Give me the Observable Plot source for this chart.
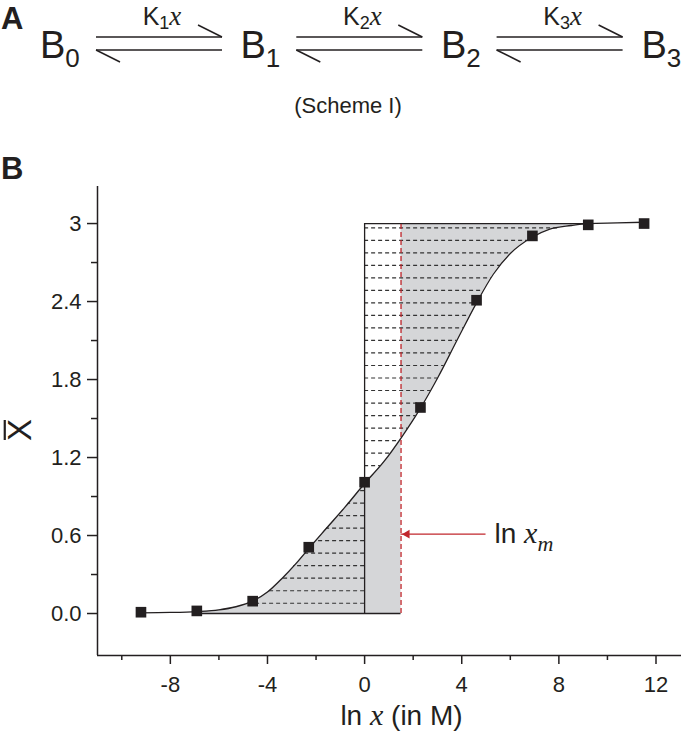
<!DOCTYPE html>
<html>
<head>
<meta charset="utf-8">
<script src="https://cdn.jsdelivr.net/npm/d3@7"></script>
<script src="https://cdn.jsdelivr.net/npm/@observablehq/plot@0.6"></script>
<style>
  html, body { margin: 0; padding: 0; background: #fff; }
  #wrap { position: relative; width: 681px; height: 741px; overflow: hidden; font-family: "Liberation Sans", Arial, sans-serif; }
  #head { position: relative; width: 681px; height: 150px; }
  #scheme { position: absolute; left: 0; top: 0; overflow: visible; z-index: 2; }
</style>
</head>
<body>
<div id="wrap">
  <div id="head"></div>
  <div id="chart"></div>
</div>
<script>
// ---------- data ----------
const species = ["0", "1", "2", "3"];          // B subscripts
const constants = ["1", "2", "3"];             // K subscripts
const schemeCaption = "(Scheme I)";

const xTicks = [-8, -4, 0, 4, 8, 12];
const xTickLabels = ["-8", "-4", "0", "4", "8", "12"];
const xMinor = [-10, -6, -2, 2, 6, 10];
const yTicks = [0, 0.6, 1.2, 1.8, 2.4, 3];
const yTickLabels = ["0.0", "0.6", "1.2", "1.8", "2.4", "3"];
const yMinor = [0.3, 0.9, 1.5, 2.1, 2.7];

// measured points: ln x (in M) and mean binding X̄
const lnX  = [-9.21, -6.91, -4.61, -2.30, 0, 2.30, 4.61, 6.91, 9.21, 11.51];
const xBar = [0.01, 0.02, 0.095, 0.51, 1.01, 1.585, 2.41, 2.905, 2.99, 3.0];

// fitted curve
const curveX = [-9.21, -8.0, -6.91, -6.0, -5.3, -4.61, -4.0, -3.4, -2.8, -2.3, -1.6, -0.8, 0, 0.8, 1.5, 2.3, 3.0, 3.8, 4.61, 5.3, 6.0, 6.9, 7.6, 8.5, 9.21, 10.4, 11.51];
const curveY = [0.005, 0.008, 0.015, 0.028, 0.052, 0.095, 0.165, 0.27, 0.39, 0.50, 0.65, 0.82, 1.0, 1.17, 1.35, 1.58, 1.81, 2.1, 2.39, 2.61, 2.77, 2.895, 2.955, 2.985, 3.0, 3.005, 3.01];

const lnXm = 1.5;          // ln x_m
const nSites = 3;          // saturation level
const shadeStart = -6.91;  // where the left shaded area begins
const shadeEnd = 9.21;     // where the upper shaded area ends
const hatchFirst = 0.079, hatchLast = 2.967, hatchCount = 31;
const arrowY = 0.61, arrowFromX = 5.0, labelX = 5.35;

const xDomain = [-11, 13.05];
const yDomain = [-0.323, 3.285];

// ---------- scheme (panel A) ----------
const ink = "#231f20";
{
  const ns = "http://www.w3.org/2000/svg";
  let s = `<svg id="scheme" xmlns="${ns}" width="681" height="190" font-family="Liberation Sans, Arial, sans-serif" fill="${ink}">`;
  s += `<text x="1" y="29" font-size="31" font-weight="bold">A</text>`;
  s += `<text x="1" y="179" font-size="31" font-weight="bold">B</text>`;
  species.forEach((sp, i) => {
    const x = 40 + i * 200.5;
    s += `<text x="${x}" y="58" font-size="38">B<tspan font-size="26" dy="9">${sp}</tspan></text>`;
  });
  constants.forEach((k, i) => {
    const x0 = 96 + i * 200.3, x1 = 222 + i * 200.3, cx = (x0 + x1) / 2 + 3;
    s += `<g stroke="${ink}" stroke-width="1.5" fill="none">
      <line x1="${x0}" y1="37" x2="${x1}" y2="37"/>
      <line x1="${x1 - 24}" y1="25" x2="${x1}" y2="37"/>
      <line x1="${x0}" y1="50" x2="${x1}" y2="50"/>
      <line x1="${x0}" y1="50" x2="${x0 + 24}" y2="62"/>
    </g>`;
    s += `<text x="${cx}" y="25" font-size="25" text-anchor="middle">K<tspan font-size="18" dy="4">${k}</tspan><tspan dy="-4" font-family="Liberation Serif, serif" font-style="italic" font-size="27">x</tspan></text>`;
  });
  s += `<text x="348" y="113" font-size="22" text-anchor="middle">${schemeCaption}</text>`;
  s += `</svg>`;
  document.getElementById("head").innerHTML = s;
}

// ---------- derived geometry ----------
const points = lnX.map((x, i) => ({x, y: xBar[i]}));
const curve = curveX.map((x, i) => ({x, y: curveY[i]}));
const fwd = d3.scaleLinear().domain(curveX).range(curveY);
const inv = d3.scaleLinear().domain(curveY).range(curveX);
const yAtXm = fwd(lnXm);

const lowerArea = curve.filter(d => d.x >= shadeStart && d.x < lnXm).concat([{x: lnXm, y: yAtXm}]);
const upperArea = [{x: lnXm, y: yAtXm}].concat(curve.filter(d => d.x > lnXm && d.x <= shadeEnd));
const hatch = d3.range(hatchCount).map(i => hatchFirst + i * (hatchLast - hatchFirst) / (hatchCount - 1));

const red = "#c1272d";
const gray = "#d5d6d8";
const dark = "#231f20";

const plot = Plot.plot({
  width: 681,
  height: 591,
  marginLeft: 97,
  marginRight: 0,
  marginTop: 36,
  marginBottom: 86,
  style: {fontFamily: "Liberation Sans, Arial, sans-serif", color: dark, background: "transparent", overflow: "visible"},
  x: {domain: xDomain, label: null},
  y: {domain: yDomain, label: null},
  marks: [
    // shaded regions
    Plot.areaY(lowerArea, {x: "x", y1: 0, y2: "y", fill: gray, curve: "monotone-x"}),
    Plot.areaY(upperArea, {x: "x", y1: "y", y2: nSites, fill: gray, curve: "monotone-x"}),
    // hatching between x = 0 and the curve
    Plot.ruleY(hatch, {y: d => d, x1: 0, x2: d => inv(d), stroke: "#333", strokeWidth: 1.2, strokeDasharray: "4,3"}),
    // frame lines of the construction
    Plot.ruleY([0], {x1: shadeStart, x2: lnXm, stroke: dark, strokeWidth: 1.3}),
    Plot.ruleY([nSites], {x1: 0, x2: shadeEnd, stroke: dark, strokeWidth: 1.3}),
    Plot.ruleX([0], {y1: 0, y2: nSites, stroke: dark, strokeWidth: 1.3}),
    Plot.ruleX([lnXm], {y1: 0, y2: nSites, stroke: red, strokeWidth: 1.3, strokeDasharray: "5,3"}),
    // fitted curve
    Plot.line(curve, {x: "x", y: "y", stroke: dark, strokeWidth: 1.3, curve: "monotone-x"}),
    // data points
    Plot.dot(points, {x: "x", y: "y", symbol: "square", r: 6, fill: dark, stroke: null}),
    // arrow annotation
    Plot.ruleY([arrowY], {x1: lnXm, x2: arrowFromX, stroke: red, strokeWidth: 1.3}),
    Plot.dot([{x: lnXm, y: arrowY}], {x: "x", y: "y", symbol: "triangle2", rotate: -90, r: 4.2, fill: red, stroke: null, dx: 6}),
    Plot.text(["ln x_m"], {x: labelX, y: arrowY, text: d => d, textAnchor: "start", fontSize: 28, fill: dark}),
    // axes
    Plot.ruleX([xDomain[0]], {stroke: dark, strokeWidth: 1.5}),
    Plot.ruleY([yDomain[0]], {stroke: dark, strokeWidth: 1.5}),
    Plot.axisX({ticks: xTicks, tickSize: 9, tickPadding: 12, fontSize: 22, label: null, strokeWidth: 1.5,
                tickFormat: d => xTickLabels[xTicks.indexOf(d)]}),
    Plot.axisX({ticks: xMinor, tickSize: 5, tickFormat: () => "", label: null, strokeWidth: 1.5}),
    Plot.axisY({ticks: yTicks, tickSize: 10, tickPadding: 6, fontSize: 22, label: null, strokeWidth: 1.5,
                tickFormat: d => yTickLabels[yTicks.indexOf(d)]}),
    Plot.axisY({ticks: yMinor, tickSize: 6, tickFormat: () => "", label: null, strokeWidth: 1.5}),
    // axis titles
    Plot.text(["ln x (in M)"], {frameAnchor: "bottom", dx: 12, dy: 61, text: d => d, fontSize: 28, fill: dark, lineAnchor: "middle"}),
    Plot.text(["X"], {frameAnchor: "left", dx: -77, dy: 20, rotate: -90, text: d => d, fontSize: 33, fill: dark})
  ]
});
document.getElementById("chart").appendChild(plot);

// rich text formatting (italic x, subscript m, overbar)
plot.querySelectorAll("text").forEach(t => {
  const s = t.textContent;
  const it = 'font-family="Liberation Serif, serif" font-style="italic"';
  if (s === "ln x (in M)") {
    t.innerHTML = `ln <tspan ${it} font-size="30">x</tspan> (in M)`;
  } else if (s === "ln x_m") {
    t.innerHTML = `ln <tspan ${it} font-size="30">x</tspan><tspan ${it} font-size="22" dy="8">m</tspan>`;
  } else if (s === "X") {
    const bb = t.getBBox();
    const ln = document.createElementNS("http://www.w3.org/2000/svg", "line");
    const yb = bb.y + bb.height * 0.1;
    ln.setAttribute("x1", bb.x + 1);
    ln.setAttribute("x2", bb.x + bb.width - 1);
    ln.setAttribute("y1", yb);
    ln.setAttribute("y2", yb);
    ln.setAttribute("stroke", dark);
    ln.setAttribute("stroke-width", 2.2);
    if (t.getAttribute("transform")) ln.setAttribute("transform", t.getAttribute("transform"));
    t.parentNode.appendChild(ln);
  }
});
</script>
</body>
</html>
